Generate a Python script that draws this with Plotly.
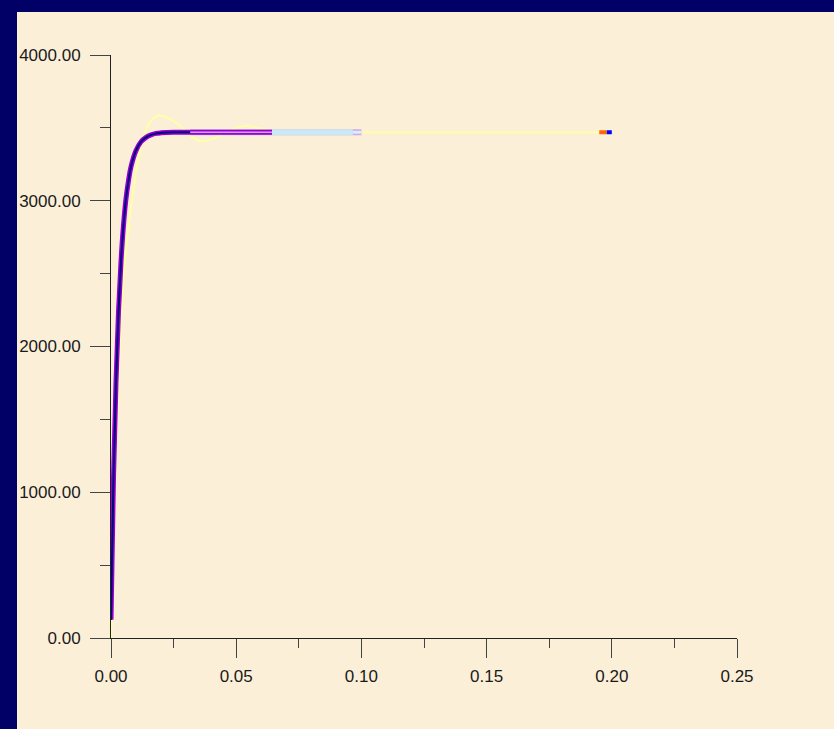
import plotly.graph_objects as go

# ---- data ----
main_x = [0.000, 0.001, 0.002, 0.003, 0.004, 0.005, 0.006, 0.007, 0.008, 0.010,
          0.012, 0.014, 0.016, 0.018, 0.020, 0.025, 0.0316, 0.040, 0.050, 0.0643]
main_y = [125, 1100, 1760, 2240, 2585, 2835, 3015, 3140, 3235, 3345,
          3405, 3435, 3452, 3462, 3466, 3470, 3470, 3470, 3470, 3470]

yel_x = [0.000, 0.002, 0.004, 0.006, 0.0096, 0.0116, 0.0144, 0.0188, 0.0256, 0.0316,
         0.0355, 0.0415, 0.0475, 0.0527, 0.0595, 0.0675, 0.080, 0.100, 0.150, 0.195]
yel_y = [0, 1290, 2180, 2660, 3155, 3345, 3505, 3585, 3540, 3450,
         3410, 3430, 3485, 3512, 3498, 3472, 3470, 3470, 3470, 3470]

navy_end = 0.0316
lav_x = [0.0316, 0.100]
lav_y = [3470, 3470]
blue1_x = [0.0643, 0.0966]
blue1_y = [3470, 3470]
blue2_x = [0.0966, 0.100]
blue2_y = [3470, 3470]
orange_x = [0.195, 0.198]
orange_y = [3470, 3470]
bl_x = [0.198, 0.200]
bl_y = [3470, 3470]

navy_x = [x for x in main_x if x <= navy_end]
navy_y = main_y[:len(navy_x)]
lav_in_x = [0.0316, 0.0643]
lav_in_y = [3470, 3470]

x_ticks = [0.00, 0.05, 0.10, 0.15, 0.20, 0.25]
x_labels = ["0.00", "0.05", "0.10", "0.15", "0.20", "0.25"]
y_ticks = [0, 1000, 2000, 3000, 4000]
y_labels = ["0.00", "1000.00", "2000.00", "3000.00", "4000.00"]

BG = "#FCEFD8"
NAVY = "#000066"

fig = go.Figure()

def add(x, y, color, width, shape="linear"):
    fig.add_trace(go.Scatter(x=x, y=y, mode="lines",
                             line=dict(color=color, width=width, shape=shape),
                             hoverinfo="skip", showlegend=False))

add(yel_x, yel_y, "#FFFFA8", 2, "spline")
add(lav_x, lav_y, "#C8A8F0", 6)
add(blue1_x, blue1_y, "#CCE8F5", 6)
add(blue2_x, blue2_y, "#DDEEF8", 3)
add(main_x, main_y, "#9900CC", 5, "spline")
add(lav_in_x, lav_in_y, "#C8A8F0", 1.5)
add(navy_x, navy_y, "#000080", 2, "spline")
add(orange_x, orange_y, "#FF6600", 4)
add(bl_x, bl_y, "#0000FF", 4)

font = dict(family="Liberation Sans, Arial, sans-serif", size=17, color="#1a1a1a")

fig.update_layout(
    width=834, height=729, autosize=False,
    margin=dict(l=111, r=97, t=55, b=91),
    paper_bgcolor=BG, plot_bgcolor="rgba(0,0,0,0)",
    font=font,
    shapes=[
        dict(type="rect", xref="paper", yref="paper", x0=-0.2, x1=1.2,
             y0=(638 - 12) / 583, y1=1.2, fillcolor=NAVY, line=dict(width=0), layer="below"),
        dict(type="rect", xref="paper", yref="paper", x0=-0.2, x1=(17 - 111) / 626,
             y0=-0.2, y1=1.2, fillcolor=NAVY, line=dict(width=0), layer="below"),
    ],
    xaxis=dict(range=[0, 0.25], showgrid=False, zeroline=False,
               showline=True, linecolor="#222222", linewidth=1,
               ticks="outside", ticklen=19, tickcolor="#444444", tickwidth=1,
               tickvals=x_ticks, ticktext=x_labels, tickfont=font,
               ticklabelstandoff=4,
               minor=dict(ticks="outside", ticklen=9, dtick=0.025, tick0=0,
                          tickcolor="#444444", showgrid=False)),
    yaxis=dict(range=[0, 4000], showgrid=False, zeroline=False,
               showline=True, linecolor="#222222", linewidth=1,
               ticks="outside", ticklen=20, tickcolor="#444444", tickwidth=1,
               tickvals=y_ticks, ticktext=y_labels, tickfont=font,
               ticklabelstandoff=6,
               minor=dict(ticks="outside", ticklen=10, dtick=500, tick0=0,
                          tickcolor="#444444", showgrid=False)),
)

fig.write_html("out.html")
